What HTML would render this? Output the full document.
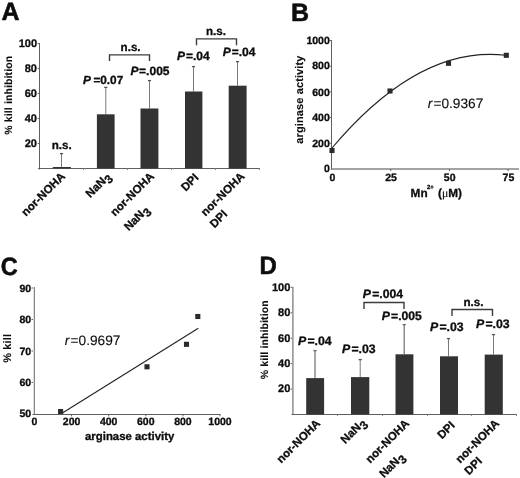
<!DOCTYPE html>
<html lang="en">
<head>
<meta charset="utf-8">
<title>Figure</title>
<style>
html,body{margin:0;padding:0;background:#fff;}
body{width:520px;height:478px;overflow:hidden;}
svg{display:block;filter:blur(0.3px);font-family:"Liberation Sans",Arial,Helvetica,sans-serif;fill:#0d0d0d;}
svg text{stroke:#0d0d0d;stroke-width:0.32px;stroke-linejoin:round;text-rendering:geometricPrecision;}
svg text.n, svg text.n tspan{stroke-width:0.12px;}
svg tspan.n{stroke-width:0.12px;}
svg text.pl{stroke-width:0.55px;}
svg text.yl{stroke-width:0.1px;}
</style>
</head>
<body>
<svg width="520" height="478" viewBox="0 0 520 478">
<rect x="0" y="0" width="520" height="478" fill="#ffffff"/>
<text transform="translate(1.4,19.6) scale(1.0,1)" font-size="25" font-weight="bold" class="pl">A</text>
<line x1="39.5" y1="43.0" x2="39.5" y2="169.5" stroke="#606060" stroke-width="1"/>
<line x1="38.0" y1="168.5" x2="260" y2="168.5" stroke="#606060" stroke-width="1"/>
<line x1="37.7" y1="143.5" x2="39.5" y2="143.5" stroke="#606060" stroke-width="1"/>
<text x="37.0" y="147.2" font-size="11" font-weight="bold" text-anchor="end" >20</text>
<line x1="37.7" y1="118.5" x2="39.5" y2="118.5" stroke="#606060" stroke-width="1"/>
<text x="37.0" y="122.2" font-size="11" font-weight="bold" text-anchor="end" >40</text>
<line x1="37.7" y1="93.5" x2="39.5" y2="93.5" stroke="#606060" stroke-width="1"/>
<text x="37.0" y="97.2" font-size="11" font-weight="bold" text-anchor="end" >60</text>
<line x1="37.7" y1="68.5" x2="39.5" y2="68.5" stroke="#606060" stroke-width="1"/>
<text x="37.0" y="72.2" font-size="11" font-weight="bold" text-anchor="end" >80</text>
<line x1="37.7" y1="43.5" x2="39.5" y2="43.5" stroke="#606060" stroke-width="1"/>
<text x="37.0" y="47.2" font-size="11" font-weight="bold" text-anchor="end" >100</text>
<line x1="83.5" y1="168.5" x2="83.5" y2="170.1" stroke="#8a8a8a" stroke-width="1"/>
<line x1="127.5" y1="168.5" x2="127.5" y2="170.1" stroke="#8a8a8a" stroke-width="1"/>
<line x1="171.5" y1="168.5" x2="171.5" y2="170.1" stroke="#8a8a8a" stroke-width="1"/>
<line x1="215.5" y1="168.5" x2="215.5" y2="170.1" stroke="#8a8a8a" stroke-width="1"/>
<line x1="259.5" y1="168.5" x2="259.5" y2="170.1" stroke="#8a8a8a" stroke-width="1"/>
<text transform="translate(12,95.2) rotate(-90)" font-size="10.5" font-weight="bold" text-anchor="middle" letter-spacing="0.12" class="yl">% kill inhibition</text>
<line x1="61.5" y1="153.5" x2="61.5" y2="167.0" stroke="#7a7a7a" stroke-width="1"/>
<line x1="59.9" y1="153.6" x2="63.1" y2="153.6" stroke="#555" stroke-width="1.3"/>
<rect x="52.8" y="167.0" width="18.10" height="1.50" fill="#333333"/>
<line x1="105.8" y1="87.3" x2="105.8" y2="114.3" stroke="#7a7a7a" stroke-width="1"/>
<line x1="104.2" y1="87.39999999999999" x2="107.39999999999999" y2="87.39999999999999" stroke="#555" stroke-width="1.3"/>
<rect x="96.9" y="114.3" width="17.70" height="54.20" fill="#333333"/>
<line x1="149.5" y1="80.5" x2="149.5" y2="108.5" stroke="#7a7a7a" stroke-width="1"/>
<line x1="147.9" y1="80.6" x2="151.1" y2="80.6" stroke="#555" stroke-width="1.3"/>
<rect x="140.5" y="108.5" width="17.90" height="60.00" fill="#333333"/>
<line x1="193.5" y1="66.5" x2="193.5" y2="91.5" stroke="#7a7a7a" stroke-width="1"/>
<line x1="191.9" y1="66.6" x2="195.1" y2="66.6" stroke="#555" stroke-width="1.3"/>
<rect x="185" y="91.5" width="17.40" height="77.00" fill="#333333"/>
<line x1="237.5" y1="61.5" x2="237.5" y2="85.7" stroke="#7a7a7a" stroke-width="1"/>
<line x1="235.9" y1="61.6" x2="239.1" y2="61.6" stroke="#555" stroke-width="1.3"/>
<rect x="228.7" y="85.7" width="17.90" height="82.80" fill="#333333"/>
<text x="51.7" y="149.2" font-size="11.6" font-weight="bold" text-anchor="start" >n.s.</text>
<text x="83.1" y="83.8" font-size="11.8" font-weight="bold"><tspan font-style="italic">P</tspan><tspan dx="2.4">=0.07</tspan></text>
<text x="130.5" y="74.6" font-size="12" font-weight="bold"><tspan font-style="italic">P</tspan><tspan dx="0.6">=.005</tspan></text>
<text x="176.9" y="60.3" font-size="12" font-weight="bold"><tspan font-style="italic">P</tspan><tspan dx="1.0">=.04</tspan></text>
<text x="222.7" y="56.3" font-size="12" font-weight="bold"><tspan font-style="italic">P</tspan><tspan dx="1.0">=.04</tspan></text>
<text x="120.6" y="51" font-size="11.6" font-weight="bold" text-anchor="start" >n.s.</text>
<text x="206" y="34.7" font-size="11.6" font-weight="bold" text-anchor="start" >n.s.</text>
<polyline points="109.5,61 109.5,54.9 149.5,54.9 149.5,61" fill="none" stroke="#3c3c3c" stroke-width="1.4"/>
<polyline points="196.5,45.2 196.5,38.9 236.5,38.9 236.5,45.2" fill="none" stroke="#3c3c3c" stroke-width="1.4"/>
<g transform="translate(65.8,177) rotate(-45)" font-size="11.5" font-weight="bold">
<text x="0" y="0" text-anchor="end">nor-NOHA</text>
</g>
<g transform="translate(111.4,177) rotate(-45)" font-size="11.5" font-weight="bold">
<text x="0" y="0" text-anchor="end"><tspan font-size="11.5">NaN</tspan><tspan font-size="12" dy="3.8" dx="0.2">3</tspan></text>
</g>
<g transform="translate(154.8,177) rotate(-45)" font-size="11.5" font-weight="bold">
<text x="0" y="0" text-anchor="end">nor-NOHA</text>
<text x="-27" y="20" text-anchor="end"><tspan font-size="11.5">NaN</tspan><tspan font-size="12" dy="3.8" dx="0.2">3</tspan></text>
</g>
<g transform="translate(199.2,178.2) rotate(-45)" font-size="11.5" font-weight="bold">
<text x="0" y="0" text-anchor="end">DPI</text>
</g>
<g transform="translate(245.3,177) rotate(-45)" font-size="11.5" font-weight="bold">
<text x="0" y="0" text-anchor="end">nor-NOHA</text>
<text x="-39" y="14.5" text-anchor="end">DPI</text>
</g>
<text transform="translate(291.0,20.6) scale(1.0,1)" font-size="25" font-weight="bold" class="pl">B</text>
<line x1="331.5" y1="40.0" x2="331.5" y2="170" stroke="#606060" stroke-width="1"/>
<line x1="331.5" y1="169" x2="519" y2="169" stroke="#858585" stroke-width="1.3"/>
<text x="329.8" y="172" font-size="10.5" font-weight="bold" text-anchor="end" >0</text>
<line x1="329.7" y1="143.3" x2="331.5" y2="143.3" stroke="#606060" stroke-width="1"/>
<text x="329.8" y="147" font-size="10.5" font-weight="bold" text-anchor="end" >200</text>
<line x1="329.7" y1="117.6" x2="331.5" y2="117.6" stroke="#606060" stroke-width="1"/>
<text x="329.8" y="121" font-size="10.5" font-weight="bold" text-anchor="end" >400</text>
<line x1="329.7" y1="91.9" x2="331.5" y2="91.9" stroke="#606060" stroke-width="1"/>
<text x="329.8" y="96" font-size="10.5" font-weight="bold" text-anchor="end" >600</text>
<line x1="329.7" y1="66.2" x2="331.5" y2="66.2" stroke="#606060" stroke-width="1"/>
<text x="329.8" y="69.4" font-size="10.5" font-weight="bold" text-anchor="end" >800</text>
<line x1="329.7" y1="40.5" x2="331.5" y2="40.5" stroke="#606060" stroke-width="1"/>
<text x="329.8" y="44" font-size="10.5" font-weight="bold" text-anchor="end" >1000</text>
<text x="332.3" y="180.6" font-size="10.5" font-weight="bold" text-anchor="middle" >0</text>
<line x1="390.7" y1="169" x2="390.7" y2="171" stroke="#606060" stroke-width="1"/>
<text x="391.0" y="180.6" font-size="10.5" font-weight="bold" text-anchor="middle" >25</text>
<line x1="449.4" y1="169" x2="449.4" y2="171" stroke="#606060" stroke-width="1"/>
<text x="449.7" y="180.6" font-size="10.5" font-weight="bold" text-anchor="middle" >50</text>
<line x1="508.1" y1="169" x2="508.1" y2="171" stroke="#606060" stroke-width="1"/>
<text x="508.40000000000003" y="180.6" font-size="10.5" font-weight="bold" text-anchor="middle" >75</text>
<text transform="translate(302.6,99.6) rotate(-90)" font-size="11.0" font-weight="bold" text-anchor="middle" letter-spacing="0.12" class="yl">arginase activity</text>
<text x="410.6" y="196.6" font-size="11.8" font-weight="bold">Mn<tspan font-size="6" dy="-7.8" dx="-0.7">2+</tspan><tspan dy="7.8" dx="4.2">(</tspan><tspan font-weight="normal" class="n" font-family="'Liberation Serif','DejaVu Serif',serif">μ</tspan>M)</text>
<path d="M332,148 Q419.15,44.64 506.3,55.3" fill="none" stroke="#222" stroke-width="1.15"/>
<rect x="329.45" y="147.95" width="5.1" height="5.1" fill="#2a2a2a"/>
<rect x="387.45" y="88.45" width="5.1" height="5.1" fill="#2a2a2a"/>
<rect x="445.95" y="60.75" width="5.1" height="5.1" fill="#2a2a2a"/>
<rect x="503.75" y="52.75" width="5.1" height="5.1" fill="#2a2a2a"/>
<text x="427.7" y="108" font-size="13.7" font-weight="normal" class="n"><tspan font-style="italic">r</tspan><tspan dx="1.2">=0.9367</tspan></text>
<text transform="translate(0.7,275.3) scale(0.94,1)" font-size="25" font-weight="bold" class="pl">C</text>
<line x1="34.3" y1="287" x2="34.3" y2="414.5" stroke="#6c6c6c" stroke-width="1.05"/>
<line x1="32.5" y1="414.5" x2="220.5" y2="414.5" stroke="#606060" stroke-width="1"/>
<text x="31.2" y="417.3" font-size="10.5" font-weight="bold" text-anchor="end" >50</text>
<line x1="31.5" y1="382.5" x2="33" y2="382.5" stroke="#606060" stroke-width="1"/>
<text x="31.2" y="386.3" font-size="10.5" font-weight="bold" text-anchor="end" >60</text>
<line x1="31.5" y1="351.0" x2="33" y2="351.0" stroke="#606060" stroke-width="1"/>
<text x="31.2" y="354.8" font-size="10.5" font-weight="bold" text-anchor="end" >70</text>
<line x1="31.5" y1="319.5" x2="33" y2="319.5" stroke="#606060" stroke-width="1"/>
<text x="31.2" y="323.3" font-size="10.5" font-weight="bold" text-anchor="end" >80</text>
<line x1="31.5" y1="288.0" x2="33" y2="288.0" stroke="#606060" stroke-width="1"/>
<text x="31.2" y="291.8" font-size="10.5" font-weight="bold" text-anchor="end" >90</text>
<text x="34.5" y="425.0" font-size="10.5" font-weight="bold" text-anchor="middle" >0</text>
<line x1="71.6" y1="414.5" x2="71.6" y2="416.3" stroke="#606060" stroke-width="1"/>
<text x="71.6" y="425.0" font-size="10.5" font-weight="bold" text-anchor="middle" >200</text>
<line x1="108.7" y1="414.5" x2="108.7" y2="416.3" stroke="#606060" stroke-width="1"/>
<text x="108.7" y="425.0" font-size="10.5" font-weight="bold" text-anchor="middle" >400</text>
<line x1="145.8" y1="414.5" x2="145.8" y2="416.3" stroke="#606060" stroke-width="1"/>
<text x="145.8" y="425.0" font-size="10.5" font-weight="bold" text-anchor="middle" >600</text>
<line x1="182.9" y1="414.5" x2="182.9" y2="416.3" stroke="#606060" stroke-width="1"/>
<text x="182.9" y="425.0" font-size="10.5" font-weight="bold" text-anchor="middle" >800</text>
<line x1="220.0" y1="414.5" x2="220.0" y2="416.3" stroke="#606060" stroke-width="1"/>
<text x="220.0" y="425.0" font-size="10.5" font-weight="bold" text-anchor="middle" >1000</text>
<text transform="translate(11.3,348.3) rotate(-90)" font-size="11.0" font-weight="bold" text-anchor="middle" letter-spacing="0.12" class="yl">% kill</text>
<text x="85.0" y="440.4" font-size="11.4" font-weight="bold" text-anchor="start" >arginase activity</text>
<line x1="62" y1="413.3" x2="198.3" y2="328.2" stroke="#222" stroke-width="1.1"/>
<rect x="58.050000000000004" y="408.95" width="5.1" height="5.1" fill="#2a2a2a"/>
<rect x="144.45" y="364.25" width="5.1" height="5.1" fill="#2a2a2a"/>
<rect x="183.95" y="341.75" width="5.1" height="5.1" fill="#2a2a2a"/>
<rect x="195.25" y="313.95" width="5.1" height="5.1" fill="#2a2a2a"/>
<text x="64.8" y="344.6" font-size="13.7" font-weight="normal" class="n"><tspan font-style="italic">r</tspan><tspan dx="1.2">=0.9697</tspan></text>
<text transform="translate(259.5,273.5) scale(0.96,1)" font-size="25" font-weight="bold" class="pl">D</text>
<line x1="292.9" y1="286.8" x2="292.9" y2="414.5" stroke="#787878" stroke-width="1.25"/>
<line x1="291.5" y1="414.5" x2="517" y2="414.5" stroke="#606060" stroke-width="1"/>
<line x1="290.5" y1="389.06" x2="292" y2="389.06" stroke="#606060" stroke-width="1"/>
<text x="290.3" y="392.3" font-size="11" font-weight="bold" text-anchor="end" >20</text>
<line x1="290.5" y1="363.62" x2="292" y2="363.62" stroke="#606060" stroke-width="1"/>
<text x="290.3" y="367.12" font-size="11" font-weight="bold" text-anchor="end" >40</text>
<line x1="290.5" y1="338.18" x2="292" y2="338.18" stroke="#606060" stroke-width="1"/>
<text x="290.3" y="341.68" font-size="11" font-weight="bold" text-anchor="end" >60</text>
<line x1="290.5" y1="312.74" x2="292" y2="312.74" stroke="#606060" stroke-width="1"/>
<text x="290.3" y="316.24" font-size="11" font-weight="bold" text-anchor="end" >80</text>
<line x1="290.5" y1="287.3" x2="292" y2="287.3" stroke="#606060" stroke-width="1"/>
<text x="290.3" y="290.8" font-size="11" font-weight="bold" text-anchor="end" >100</text>
<line x1="337.5" y1="414.5" x2="337.5" y2="416.1" stroke="#8a8a8a" stroke-width="1"/>
<line x1="382.5" y1="414.5" x2="382.5" y2="416.1" stroke="#8a8a8a" stroke-width="1"/>
<line x1="427.5" y1="414.5" x2="427.5" y2="416.1" stroke="#8a8a8a" stroke-width="1"/>
<line x1="471.5" y1="414.5" x2="471.5" y2="416.1" stroke="#8a8a8a" stroke-width="1"/>
<line x1="516.5" y1="414.5" x2="516.5" y2="416.1" stroke="#8a8a8a" stroke-width="1"/>
<text transform="translate(267.7,339.7) rotate(-90)" font-size="10.5" font-weight="bold" text-anchor="middle" letter-spacing="0.12" class="yl">% kill inhibition</text>
<line x1="315" y1="350.5" x2="315" y2="378.1" stroke="#7a7a7a" stroke-width="1.3"/>
<line x1="313.4" y1="350.6" x2="316.6" y2="350.6" stroke="#666" stroke-width="1.3"/>
<rect x="306.2" y="378.1" width="17.90" height="36.40" fill="#333333"/>
<line x1="360.2" y1="359.5" x2="360.2" y2="377.1" stroke="#7a7a7a" stroke-width="1"/>
<line x1="358.59999999999997" y1="359.6" x2="361.8" y2="359.6" stroke="#555" stroke-width="1.3"/>
<rect x="351" y="377.1" width="18.30" height="37.40" fill="#333333"/>
<line x1="404.2" y1="324.5" x2="404.2" y2="354.3" stroke="#7a7a7a" stroke-width="1.3"/>
<line x1="402.59999999999997" y1="324.6" x2="405.8" y2="324.6" stroke="#666" stroke-width="1.3"/>
<rect x="395.5" y="354.3" width="17.90" height="60.20" fill="#333333"/>
<line x1="448.5" y1="338.5" x2="448.5" y2="356.3" stroke="#7a7a7a" stroke-width="1"/>
<line x1="446.9" y1="338.6" x2="450.1" y2="338.6" stroke="#555" stroke-width="1.3"/>
<rect x="440" y="356.3" width="18.00" height="58.20" fill="#333333"/>
<line x1="493.5" y1="334.5" x2="493.5" y2="354.6" stroke="#7a7a7a" stroke-width="1"/>
<line x1="491.9" y1="334.6" x2="495.1" y2="334.6" stroke="#555" stroke-width="1.3"/>
<rect x="484.7" y="354.6" width="18.10" height="59.90" fill="#333333"/>
<text x="298" y="344.8" font-size="12.3" font-weight="bold"><tspan font-style="italic">P</tspan><tspan dx="1.2">=.04</tspan></text>
<text x="342" y="352.6" font-size="12.3" font-weight="bold"><tspan font-style="italic">P</tspan><tspan dx="1.2">=.03</tspan></text>
<text x="362.8" y="297.8" font-size="12.2" font-weight="bold"><tspan font-style="italic">P</tspan><tspan dx="1.2">=.004</tspan></text>
<text x="381.7" y="320.4" font-size="12.2" font-weight="bold"><tspan font-style="italic">P</tspan><tspan dx="1.2">=.005</tspan></text>
<text x="430" y="331.2" font-size="12.3" font-weight="bold"><tspan font-style="italic">P</tspan><tspan dx="1.2">=.03</tspan></text>
<text x="476" y="328" font-size="12.3" font-weight="bold"><tspan font-style="italic">P</tspan><tspan dx="1.2">=.03</tspan></text>
<text x="463.4" y="305.8" font-size="11.6" font-weight="bold" text-anchor="start" >n.s.</text>
<polyline points="364,309 364,302.5 404,302.5 404,309" fill="none" stroke="#3c3c3c" stroke-width="1.4"/>
<polyline points="452,316 452,309.5 492.5,309.5 492.5,316" fill="none" stroke="#3c3c3c" stroke-width="1.4"/>
<g transform="translate(321,424) rotate(-45)" font-size="11.5" font-weight="bold">
<text x="0" y="0" text-anchor="end">nor-NOHA</text>
</g>
<g transform="translate(366.5,423) rotate(-45)" font-size="11.5" font-weight="bold">
<text x="0" y="0" text-anchor="end"><tspan font-size="11.5">NaN</tspan><tspan font-size="12" dy="3.8" dx="0.2">3</tspan></text>
</g>
<g transform="translate(410,424) rotate(-45)" font-size="11.5" font-weight="bold">
<text x="0" y="0" text-anchor="end">nor-NOHA</text>
<text x="-27" y="20" text-anchor="end"><tspan font-size="11.5">NaN</tspan><tspan font-size="12" dy="3.8" dx="0.2">3</tspan></text>
</g>
<g transform="translate(455.5,426) rotate(-45)" font-size="11.5" font-weight="bold">
<text x="0" y="0" text-anchor="end">DPI</text>
</g>
<g transform="translate(500,424) rotate(-45)" font-size="11.5" font-weight="bold">
<text x="0" y="0" text-anchor="end">nor-NOHA</text>
<text x="-39" y="14.5" text-anchor="end">DPI</text>
</g>
</svg>
</body>
</html>
